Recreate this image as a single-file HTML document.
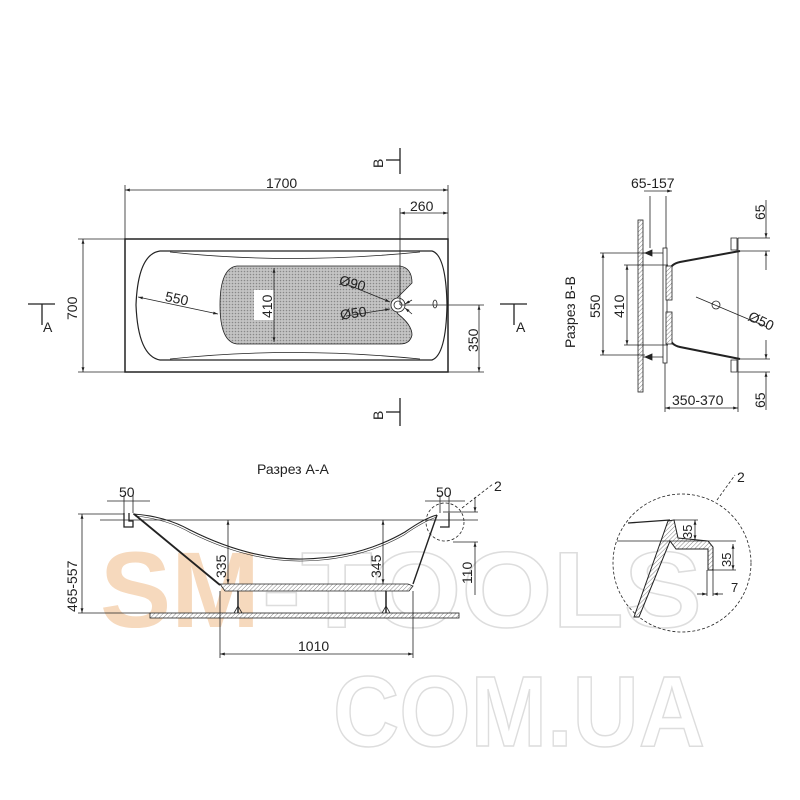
<!DOCTYPE html>
<html><head><meta charset="utf-8"><style>
html,body{margin:0;padding:0;background:#fff}
svg{display:block}
text{font-family:"Liberation Sans",sans-serif;fill:#222}
</style></head><body>
<svg width="800" height="800" viewBox="0 0 800 800" xmlns="http://www.w3.org/2000/svg">
<defs>
<pattern id="dots" width="3" height="3" patternUnits="userSpaceOnUse"><rect width="3" height="3" fill="#c4c4c4"/><circle cx="1.5" cy="1.5" r="0.8" fill="#888"/></pattern>
<pattern id="hatch" width="3" height="3" patternUnits="userSpaceOnUse" patternTransform="rotate(45)"><rect width="3" height="3" fill="#fff"/><line x1="0" y1="0" x2="0" y2="3" stroke="#666" stroke-width="0.8"/></pattern>
<marker id="ar" viewBox="0 0 10 10" refX="10" refY="5" markerWidth="6" markerHeight="6" orient="auto-start-reverse"><path d="M0,2 L10,5 L0,8" fill="#222"/></marker>
</defs>

<!-- watermark -->
<g font-family="Liberation Sans" font-weight="bold">
<text x="100" y="627" font-size="108" style="fill:#f6d9bd" textLength="160" lengthAdjust="spacingAndGlyphs">SM</text>
<text x="262" y="627" font-size="108" style="fill:none;stroke:#ddd;stroke-width:1.5" textLength="440" lengthAdjust="spacingAndGlyphs">-TOOLS</text>
<text x="333" y="746" font-size="100" style="fill:none;stroke:#ddd;stroke-width:1.5" textLength="372" lengthAdjust="spacingAndGlyphs">COM.UA</text>
</g>

<g stroke="#222" fill="none" stroke-width="0.8">
<!-- TOP VIEW -->
<rect x="125" y="239" width="323" height="133" stroke-width="1.5"/>
<path d="M160,251 L432,251 Q446,255 447,305 Q446,355 432,360 L160,360 Q138,356 136,305 Q138,254 160,251Z" stroke-width="1.2"/>
<path d="M170,252 Q290,265 420,252 M170,359 Q290,346 420,359"/>
<path d="M237,266 L400,266 Q412,268 412,283 Q405,290 398,297 Q392,305 398,314 Q412,325 412,335 Q410,344 400,344 L237,344 Q220,342 220,305 Q220,268 237,266Z" fill="url(#dots)"/>
<rect x="254" y="290" width="20" height="30" fill="#fff" stroke="none"/>
<circle cx="398" cy="305" r="7" fill="#fff"/><circle cx="398" cy="305" r="4"/>
<ellipse cx="435" cy="304" rx="2" ry="4"/>
<line x1="125" y1="190" x2="448" y2="190" marker-start="url(#ar)" marker-end="url(#ar)"/>
<line x1="125" y1="185" x2="125" y2="239"/><line x1="448" y1="185" x2="448" y2="239"/>
<line x1="400" y1="213" x2="448" y2="213" marker-start="url(#ar)" marker-end="url(#ar)"/>
<line x1="400" y1="208" x2="400" y2="305"/>
<line x1="83" y1="239" x2="83" y2="372" marker-start="url(#ar)" marker-end="url(#ar)"/>
<line x1="78" y1="239" x2="125" y2="239"/><line x1="78" y1="372" x2="125" y2="372"/>
<line x1="479" y1="305" x2="479" y2="372" marker-start="url(#ar)" marker-end="url(#ar)"/>
<line x1="400" y1="305" x2="484" y2="305"/><line x1="448" y1="372" x2="484" y2="372"/>
<line x1="138" y1="297" x2="218" y2="314" marker-start="url(#ar)" marker-end="url(#ar)"/>
<line x1="274" y1="268" x2="274" y2="342" marker-start="url(#ar)" marker-end="url(#ar)"/>
<line x1="346" y1="284" x2="390" y2="302" marker-end="url(#ar)"/>
<line x1="346" y1="316" x2="390" y2="309" marker-end="url(#ar)"/>
<line x1="412" y1="300" x2="405" y2="304" marker-end="url(#ar)"/>
<line x1="412" y1="314" x2="405" y2="308" marker-end="url(#ar)"/>
<g stroke-width="1.3">
<line x1="28" y1="304" x2="55" y2="304"/><line x1="42" y1="304" x2="42" y2="325"/>
<line x1="500" y1="304" x2="527" y2="304"/><line x1="514" y1="304" x2="514" y2="325"/>
<line x1="400" y1="148" x2="400" y2="174"/><line x1="386" y1="160" x2="400" y2="160"/>
<line x1="400" y1="398" x2="400" y2="426"/><line x1="386" y1="412" x2="400" y2="412"/>
</g>
</g>
<g font-size="14">
<text x="266" y="188">1700</text>
<text x="410" y="211">260</text>
<text x="165" y="305" transform="rotate(12 185 300)">550</text>
<text x="339" y="290" transform="rotate(15 360 285)">Ø90</text>
<text x="340" y="317" transform="rotate(-8 360 312)">Ø50</text>
<text transform="translate(272 318) rotate(-90)">410</text>
<text transform="translate(77 320) rotate(-90)">700</text>
<text transform="translate(478 352) rotate(-90)">350</text>
<text x="43" y="332">A</text><text x="516" y="332">A</text>
<text transform="translate(383 168) rotate(-90)">B</text>
<text transform="translate(383 420) rotate(-90)">B</text>
</g>

<!-- SECTION B-B -->
<g stroke="#222" fill="none" stroke-width="0.8">
<rect x="638" y="220" width="5" height="172" fill="url(#hatch)"/>
<rect x="663" y="248" width="4" height="115" fill="#fff"/>
<path d="M643,253 L663,253 M643,357 L663,357"/>
<path d="M645,253 L652,250 L652,256Z M645,357 L652,354 L652,360Z" fill="#222"/>
<path d="M670,270 Q671,264 680,262 L740,251 M670,338 Q671,345 680,347 L740,359" stroke-width="2"/>
<rect x="666" y="266" width="6" height="34" fill="url(#hatch)"/>
<rect x="666" y="312" width="6" height="32" fill="url(#hatch)"/>
<path d="M731,238 L731,250 L737,250 L737,238Z M731,360 L731,372 L737,372 L737,360Z"/>
<line x1="738" y1="238" x2="738" y2="412"/>
<line x1="650" y1="196" x2="650" y2="248"/><line x1="666" y1="196" x2="666" y2="248"/>
<line x1="644" y1="191" x2="672" y2="191" marker-end="url(#ar)"/>
<line x1="603" y1="253" x2="603" y2="355" marker-start="url(#ar)" marker-end="url(#ar)"/>
<line x1="600" y1="253" x2="645" y2="253"/><line x1="600" y1="355" x2="645" y2="355"/>
<line x1="627" y1="265" x2="627" y2="345" marker-start="url(#ar)" marker-end="url(#ar)"/>
<line x1="624" y1="265" x2="668" y2="265"/><line x1="624" y1="345" x2="668" y2="345"/>
<line x1="665" y1="363" x2="665" y2="412"/>
<line x1="665" y1="408" x2="738" y2="408" marker-start="url(#ar)" marker-end="url(#ar)"/>
<line x1="738" y1="238" x2="770" y2="238"/><line x1="740" y1="251" x2="770" y2="251"/>
<line x1="766" y1="200" x2="766" y2="238" marker-end="url(#ar)"/><line x1="766" y1="251" x2="766" y2="270" marker-start="url(#ar)"/>
<line x1="740" y1="359" x2="770" y2="359"/><line x1="738" y1="372" x2="770" y2="372"/>
<line x1="766" y1="340" x2="766" y2="359" marker-end="url(#ar)"/><line x1="766" y1="372" x2="766" y2="410" marker-start="url(#ar)"/>
<circle cx="716" cy="305" r="4"/>
<line x1="696" y1="297" x2="767" y2="327"/>
</g>
<g font-size="14">
<text x="631" y="188">65-157</text>
<text x="672" y="405">350-370</text>
<text x="749" y="325" transform="rotate(25 760 318)">Ø50</text>
<text transform="translate(575 348) rotate(-90)">Разрез B-B</text>
<text transform="translate(600 318) rotate(-90)">550</text>
<text transform="translate(624 318) rotate(-90)">410</text>
<text transform="translate(765 220) rotate(-90)">65</text>
<text transform="translate(765 408) rotate(-90)">65</text>
</g>

<!-- SECTION A-A -->
<text x="257" y="474" font-size="14">Разрез А-А</text>
<g stroke="#222" fill="none" stroke-width="0.8">
<path d="M124,513 L124,527 L133,527 L133,521 L129,521 L129,513" stroke-width="1.3"/>
<path d="M449,513 L449,527 L440,527" stroke-width="1.3"/>
<path d="M134,514 L220,585" stroke-width="1.8"/>
<path d="M437,515 L413,584" stroke-width="1.4"/>
<path d="M133,514 Q165,516 190,530 Q250,560 303,559 Q360,558 405,532 Q425,518 437,515" stroke-width="1.1"/>
<path d="M135,516 Q167,519 191,533 Q250,562 303,561 Q360,560 404,535 Q424,521 437,517" stroke-width="0.6"/>
<path d="M220,584 L408,584 L413,586 L409,591 L225,591 Z" fill="url(#hatch)"/>
<rect x="150" y="613" width="309" height="5" fill="url(#hatch)"/>
<line x1="238" y1="591" x2="238" y2="613" stroke-width="1.5"/><line x1="386" y1="591" x2="386" y2="613" stroke-width="1.5"/>
<path d="M234,613 L238,606 L242,613 M382,613 L386,606 L390,613"/>
<line x1="82" y1="514" x2="82" y2="613" marker-start="url(#ar)" marker-end="url(#ar)"/>
<line x1="78" y1="514" x2="124" y2="514"/><line x1="78" y1="613" x2="150" y2="613"/>
<line x1="100" y1="520" x2="478" y2="520"/>
<line x1="228" y1="520" x2="228" y2="584" marker-start="url(#ar)" marker-end="url(#ar)"/>
<line x1="383" y1="520" x2="383" y2="584" marker-start="url(#ar)" marker-end="url(#ar)"/>
<line x1="443" y1="512" x2="478" y2="512"/><line x1="453" y1="542" x2="478" y2="542"/>
<line x1="475" y1="497" x2="475" y2="512" marker-end="url(#ar)"/>
<line x1="475" y1="542" x2="475" y2="595" marker-start="url(#ar)"/>
<line x1="220" y1="591" x2="220" y2="658"/><line x1="413" y1="591" x2="413" y2="658"/>
<line x1="220" y1="654" x2="413" y2="654" marker-start="url(#ar)" marker-end="url(#ar)"/>
<line x1="107" y1="501" x2="150" y2="501"/><line x1="124" y1="495" x2="124" y2="513"/><line x1="133" y1="495" x2="133" y2="513"/>
<line x1="425" y1="501" x2="465" y2="501"/><line x1="440" y1="495" x2="440" y2="513"/><line x1="449" y1="495" x2="449" y2="513"/>
<circle cx="445" cy="522" r="19" stroke-dasharray="3,2"/>
<line x1="462" y1="508" x2="493" y2="484" stroke-dasharray="3,2"/>
<!-- detail -->
<circle cx="682" cy="563" r="69" stroke-dasharray="3,2"/>
<line x1="717" y1="500" x2="735" y2="475" stroke-dasharray="3,2"/>
<path d="M628,523 L670,520" stroke-width="1.3"/>
<path d="M668,521 L674,520 L678,538 L708,541 L713,547 L713,570 L708,570 L708,549 L676,549 L670,541 L639,617 L634,617 Z" fill="url(#hatch)" stroke-width="1"/>
<line x1="674" y1="520" x2="698" y2="520"/><line x1="695" y1="520" x2="695" y2="540" marker-start="url(#ar)" marker-end="url(#ar)"/>
<line x1="617" y1="541" x2="736" y2="541"/><line x1="733" y1="544" x2="733" y2="570" marker-start="url(#ar)" marker-end="url(#ar)"/>
<line x1="708" y1="570" x2="736" y2="570"/>
<line x1="707" y1="570" x2="707" y2="596"/><line x1="713" y1="570" x2="713" y2="596"/>
<line x1="697" y1="594" x2="707" y2="594" marker-end="url(#ar)"/><line x1="713" y1="594" x2="723" y2="594" marker-start="url(#ar)"/>
</g>
<g font-size="14">
<text x="119" y="497">50</text>
<text x="436" y="497">50</text>
<text x="494" y="491">2</text>
<text x="737" y="482">2</text>
<text x="298" y="651">1010</text>
<text transform="translate(77 612) rotate(-90)">465-557</text>
<text transform="translate(226 578) rotate(-90)">335</text>
<text transform="translate(381 578) rotate(-90)">345</text>
<text transform="translate(472 584) rotate(-90)">110</text>
<text transform="translate(692 539) rotate(-90)" font-size="13">35</text>
<text transform="translate(731 567) rotate(-90)" font-size="13">35</text>
<text x="731" y="592" font-size="13">7</text>
</g>
</svg>
</body></html>
